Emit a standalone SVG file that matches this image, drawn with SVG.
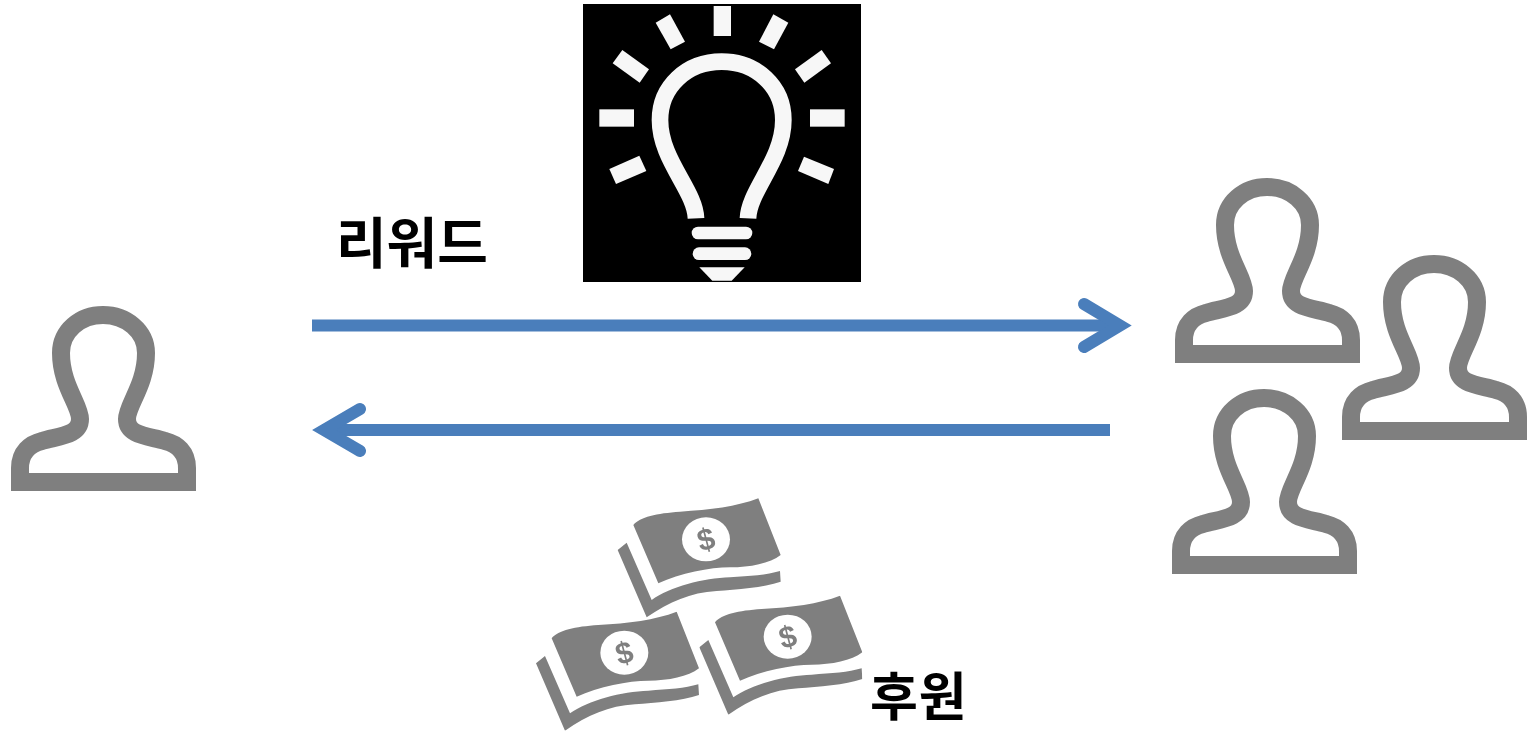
<svg xmlns="http://www.w3.org/2000/svg" xmlns:xlink="http://www.w3.org/1999/xlink" width="1530" height="731" viewBox="0 0 1530 731">
<style>
.person{fill:none;stroke:#7f7f7f;stroke-width:18;stroke-linejoin:miter}
.ray{fill:#f7f7f7}
.bill{fill:#7f7f7f}
.coin{fill:#fff}
.dollar{font-family:"Liberation Sans",sans-serif;font-weight:700;font-size:92px;fill:#7f7f7f;text-anchor:middle}
.label{font-family:"Noto Sans CJK KR",sans-serif;font-weight:700;fill:#000}
.arrow{fill:none;stroke:#4a7ebb;stroke-width:12}
.head{fill:none;stroke:#4a7ebb;stroke-width:12;stroke-linecap:round;stroke-linejoin:miter;stroke-miterlimit:10}
</style>
<defs>
<filter id="soft" x="-5%" y="-5%" width="110%" height="110%"><feGaussianBlur stdDeviation="0.7"/></filter>
<symbol id="person-icon" overflow="visible">
<path class="person" d="M20 482V468C20 452 30 444 42 441C58 436 80 436 80 419C80 405 61 385 61 353C61 331 80 315 103 315C126 315 146 331 146 353C146 385 127 405 127 419C127 436 149 436 165 441C177 444 187 452 187 468V482Z"/>
</symbol>
<g id="bill-icon">
<path class="bill" d="M310 105C330 80 380 70 450 65C540 60 620 50 685 25L752 195C720 220 660 232 600 232C540 232 450 250 385 280Z"/>
<path class="bill" d="M263 180L290 158L365 330C420 290 520 265 600 262C660 258 710 255 750 243L752 275C700 293 620 298 560 303C480 308 420 335 350 382Z"/>
<ellipse class="coin" cx="528" cy="148" rx="72" ry="66"/>
<text class="dollar" x="528" y="180" transform="rotate(-15 528 148)">$</text>
</g>
</defs>
<g id="creator"><use href="#person-icon" xlink:href="#person-icon" x="0" y="0"/></g>
<g id="backers">
<use href="#person-icon" xlink:href="#person-icon" transform="translate(1164 -128)"/>
<use href="#person-icon" xlink:href="#person-icon" transform="translate(1331 -51)"/>
<use href="#person-icon" xlink:href="#person-icon" transform="translate(1161 83)"/>
</g>
<g id="idea">
<rect x="583" y="4" width="278" height="278" fill="#000"/>
<g transform="translate(580 0) scale(.33333)">
<rect class="ray" x="401" y="18" width="52" height="90"/>
<rect class="ray" x="58" y="328" width="104" height="52"/>
<rect class="ray" x="690" y="328" width="104" height="52"/>
<polygon class="ray" points="227,68 270,43 315,125 272,148"/>
<polygon class="ray" points="580,43 625,68 582,148 537,125"/>
<polygon class="ray" points="127,150 207,208 179,248 98,190"/>
<polygon class="ray" points="725,150 753,190 673,248 645,208"/>
<polygon class="ray" points="178,467 199,513 108,552 88,507"/>
<polygon class="ray" points="672,470 762,507 745,552 654,513"/>
<path d="M348 655C345 570 240 480 240 360C240 260 320 185 425 185C530 185 610 260 610 360C610 480 507 570 504 655" fill="none" stroke="#f7f7f7" stroke-width="50"/>
<rect class="ray" x="335" y="680" width="182" height="38" rx="19"/>
<rect class="ray" x="338" y="742" width="176" height="38" rx="19"/>
<polygon class="ray" points="358,802 494,802 455,842 397,842"/>
</g>
</g>
<g id="money" filter="url(#soft)">
<g transform="translate(530 490) scale(.33333)">
<use href="#bill-icon" xlink:href="#bill-icon"/>
<use href="#bill-icon" xlink:href="#bill-icon" transform="translate(-245 340)"/>
<use href="#bill-icon" xlink:href="#bill-icon" transform="translate(245 292)"/>
</g>
</g>
<g id="connectors">
<path class="arrow" d="M312 325.500H1120"/>
<path class="head" d="M1084 304L1120 325.500L1084 347"/>
<path class="arrow" d="M1110 430H324"/>
<path class="head" d="M360 409L324 430L360 451"/>
</g>
<g id="labels">
<text class="label" x="336" y="263" font-size="55">리워드</text>
<text class="label" x="870" y="716" font-size="52" letter-spacing="1">후원</text>
</g>
</svg>
